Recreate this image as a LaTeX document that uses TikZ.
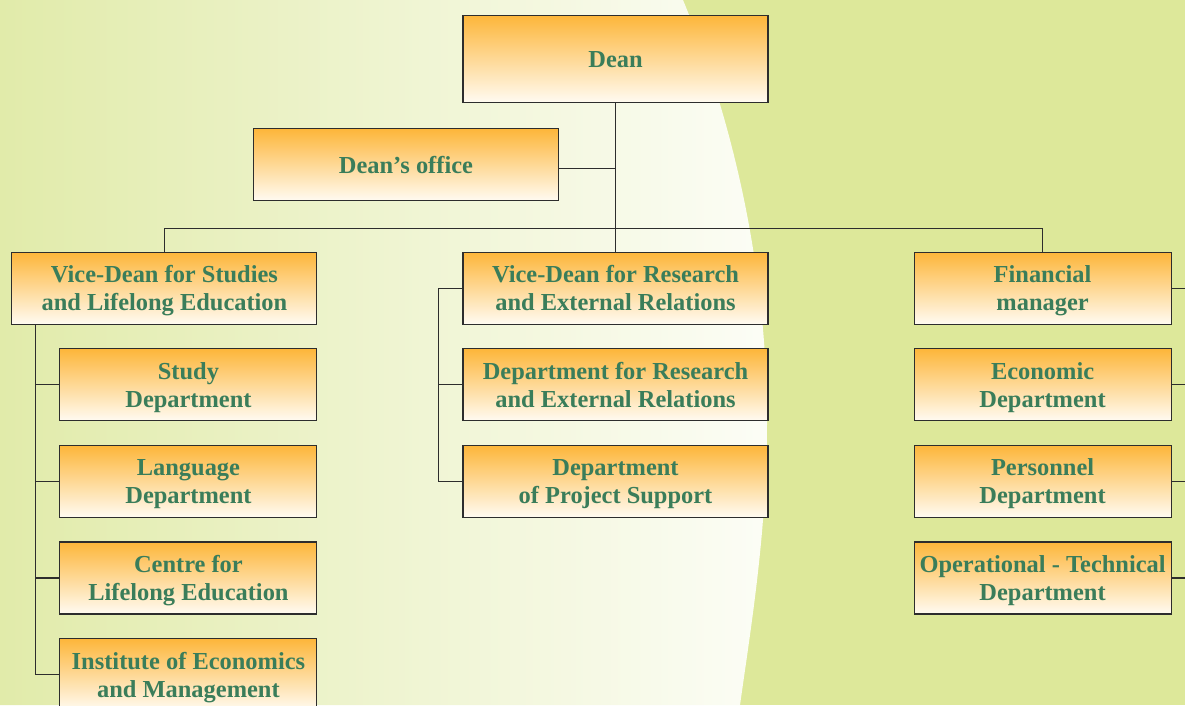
\documentclass[tikz,border=0pt]{standalone}
\usepackage{fontspec}
\setmainfont{Liberation Serif}
\usetikzlibrary{positioning,backgrounds}
\definecolor{leaf}{RGB}{221,232,154}
\definecolor{paleleaf}{RGB}{225,235,170}
\definecolor{chalk}{RGB}{252,253,246}
\definecolor{amber}{RGB}{253,182,58}
\definecolor{cream}{RGB}{255,251,242}
\definecolor{ink}{RGB}{58,125,90}
\definecolor{wire}{RGB}{45,45,45}
\tikzset{node distance=0.47cm,
    box/.style={draw=wire,line width=0.6pt,top color=amber,bottom color=cream,
        text=ink,font=\fontsize{13.9}{16}\selectfont\bfseries,align=center,
        minimum height=1.44cm,inner sep=1pt,text depth=-2pt},
    wide/.style={box,minimum width=6.1cm},
    narrow/.style={box,minimum width=5.14cm},
    link/.style={draw=wire,line width=0.6pt}}

\begin{document}
\begin{tikzpicture}
    \clip (0,0) rectangle (23.7,-14.1);
    % top
    \node[wide,minimum height=1.75cm] (dean) at (12.31,-1.18) {Dean};
    \node[wide] (office) [below left=0.5cm and 1.13cm of dean.south] {Dean's office};
    \node[wide] (vdr)  [below=2.97cm of dean]  {Vice-Dean for Research\\and External Relations};
    \node[wide] (vds)  [left=2.9cm of vdr]    {Vice-Dean for Studies\\and Lifelong Education};
    \node[narrow] (fin) [right=2.9cm of vdr]  {Financial\\manager};
    % left column
    \node[narrow] (study)  [below=0.47cm of vds.south east,anchor=north east] {Study\\Department};
    \node[narrow] (lang)   [below=of study]   {Language\\Department};
    \node[narrow] (centre) [below=of lang]    {Centre for\\Lifelong Education};
    \node[narrow] (inst)   [below=of centre]  {Institute of Economics\\and Management};
    % middle column
    \node[wide] (dres)  [below=of vdr]   {Department for Research\\and External Relations};
    \node[wide] (dproj) [below=of dres]  {Department\\of Project Support};
    % right column
    \node[narrow] (econ) [below=of fin]   {Economic\\Department};
    \node[narrow] (pers) [below=of econ]  {Personnel\\Department};
    \node[narrow] (oper) [below=of pers]  {Operational - Technical\\Department};

    \draw[link] (dean.south) -- (vdr.north);
    \draw[link] ([yshift=-0.07cm]office.east) -- ([yshift=-0.07cm]office.east -| dean.south);
    \draw[link] (vds.north) -- ++(0,0.46) -| (fin.north);
    \draw[link] ([xshift=0.48cm]vds.south west) |- (inst.west);
    \foreach \n in {study,lang,centre}
        \draw[link] (\n.west) -- ++(-0.48,0);
    \draw[link] (vdr.west) -- ++(-0.48,0) |- (dproj.west);
    \draw[link] (dres.west) -- ++(-0.48,0);
    \foreach \n in {fin,econ,pers,oper}
        \draw[link] (\n.east) -- ++(0.3,0);

    \begin{scope}[on background layer]
        \fill[leaf] (0,0) rectangle (23.7,-14.1);
        \shade[left color=paleleaf,right color=chalk]
            (0,0) -- (13.66,0) .. controls (14.9,-3) and (15.34,-6) .. (15.34,-8.4)
            .. controls (15.34,-10.6) and (15.04,-12.4) .. (14.8,-14.1) -- (0,-14.1) -- cycle;
    \end{scope}
\end{tikzpicture}
\end{document}
